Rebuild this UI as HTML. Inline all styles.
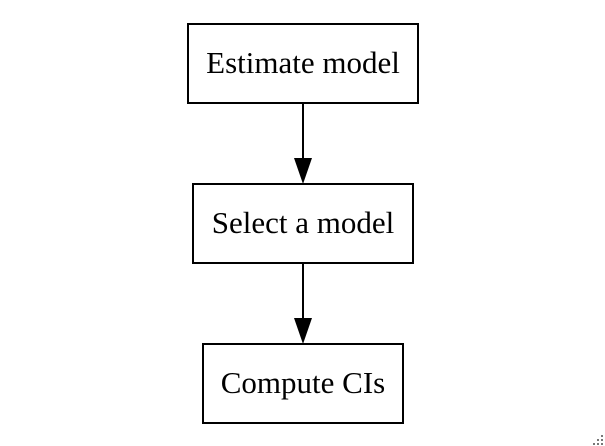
<!DOCTYPE html>
<html><head><style>html,body{margin:0;padding:0;background:#fff;width:605px;height:446px;overflow:hidden}</style></head>
<body>
<svg width="605" height="446" xmlns="http://www.w3.org/2000/svg" font-family="'Liberation Serif', serif" font-size="31">
<rect x="188" y="24" width="230" height="79" fill="#fff" stroke="#000" stroke-width="2"/>
<text x="303" y="73" text-anchor="middle">Estimate model</text>
<line x1="303" y1="103" x2="303" y2="160" stroke="#000" stroke-width="2"/>
<polygon points="294,158 312,158 303,184" fill="#000"/>
<rect x="193" y="184" width="220" height="79" fill="#fff" stroke="#000" stroke-width="2"/>
<text x="303" y="233" text-anchor="middle">Select a model</text>
<line x1="303" y1="263" x2="303" y2="320" stroke="#000" stroke-width="2"/>
<polygon points="294,318 312,318 303,344" fill="#000"/>
<rect x="203" y="344" width="200" height="79" fill="#fff" stroke="#000" stroke-width="2"/>
<text x="303" y="393" text-anchor="middle">Compute CIs</text>
<g fill="#777"><rect x="601" y="439" width="2" height="2"/><rect x="597" y="443" width="2" height="2"/><rect x="601" y="443" width="2" height="2"/><rect x="601" y="435" width="2" height="2"/><rect x="597" y="439" width="2" height="2"/><rect x="593" y="443" width="2" height="2"/></g>
</svg>
</body></html>
